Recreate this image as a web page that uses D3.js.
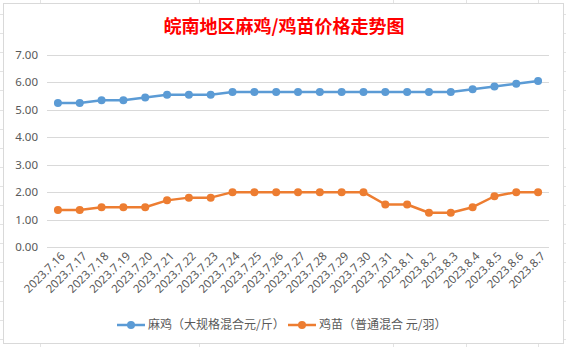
<!DOCTYPE html>
<html><head><meta charset="utf-8">
<script src="https://cdn.jsdelivr.net/npm/d3@7"></script>
<style>
html,body{margin:0;padding:0;background:#fff;}
svg{display:block;}
</style></head>
<body>
<svg id="c" width="566" height="347"></svg>
<script>
const title = "皖南地区麻鸡/鸡苗价格走势图";
const dates = ["2023.7.16","2023.7.17","2023.7.18","2023.7.19","2023.7.20","2023.7.21","2023.7.22","2023.7.23","2023.7.24","2023.7.25","2023.7.26","2023.7.27","2023.7.28","2023.7.29","2023.7.30","2023.7.31","2023.8.1","2023.8.2","2023.8.3","2023.8.4","2023.8.5","2023.8.6","2023.8.7"];
const seriesNames = ["麻鸡（大规格混合元/斤）","鸡苗（普通混合 元/羽）"];
const maji = [5.25,5.25,5.35,5.35,5.45,5.55,5.55,5.55,5.65,5.65,5.65,5.65,5.65,5.65,5.65,5.65,5.65,5.65,5.65,5.75,5.85,5.95,6.05];
const jimiao = [1.35,1.35,1.45,1.45,1.45,1.7,1.8,1.8,2.0,2.0,2.0,2.0,2.0,2.0,2.0,1.55,1.55,1.25,1.25,1.45,1.85,2.0,2.0];
const yTicks = [0,1,2,3,4,5,6,7];
const colors = ["#5B9BD5","#ED7D31"];

const svg = d3.select("#c");
const W = 566, H = 347;

// spreadsheet background lines
const bg = svg.append("g");
const rowYs = d3.range(0, 18).map(i => 14 + i * 19.1);
bg.selectAll("line.r").data(rowYs).join("line")
  .attr("x1", 0).attr("x2", W).attr("y1", d => Math.round(d) + 0.5).attr("y2", d => Math.round(d) + 0.5)
  .attr("stroke", "#e3e3e3").attr("stroke-width", 1);
const colXs = [40, 199, 393, 466, 538];
bg.selectAll("line.c").data(colXs).join("line")
  .attr("x1", d => d + 0.5).attr("x2", d => d + 0.5).attr("y1", 0).attr("y2", H)
  .attr("stroke", "#e3e3e3").attr("stroke-width", 1);

// chart frame
svg.append("rect").attr("x", 3.5).attr("y", 3.5).attr("width", 560).attr("height", 340)
  .attr("fill", "#fff").attr("stroke", "#d9d9d9").attr("stroke-width", 1);

// title
svg.append("text").attr("x", 284).attr("y", 33).attr("text-anchor", "middle")
  .attr("font-family", "'Noto Sans CJK SC'").attr("font-weight", "bold").attr("font-size", 18)
  .attr("fill", "#FF0000").text(title);

const x = d3.scaleBand().domain(dates).range([47, 549]).paddingInner(0).paddingOuter(0);
const y = d3.scaleLinear().domain([0, 7]).range([247, 55]);
const cx = d => x(d) + x.bandwidth() / 2;

// gridlines
svg.append("g").selectAll("line").data(yTicks).join("line")
  .attr("x1", 47).attr("x2", 549)
  .attr("y1", d => Math.round(y(d)) + 0.5).attr("y2", d => Math.round(y(d)) + 0.5)
  .attr("stroke", "#d9d9d9").attr("stroke-width", 1);

// y labels
svg.append("g").selectAll("text").data(yTicks).join("text")
  .attr("x", 38).attr("y", d => y(d)).attr("dy", "0.35em").attr("text-anchor", "end")
  .attr("font-family", "'Noto Sans', sans-serif").attr("font-size", 11.5).attr("fill", "#595959")
  .text(d => d3.format(".2f")(d));

// x labels
svg.append("g").selectAll("text").data(dates).join("text")
  .attr("transform", d => `translate(${cx(d) + 5},${254}) rotate(-45)`)
  .attr("text-anchor", "end").attr("dy", "0.35em")
  .attr("font-family", "'Noto Sans', sans-serif").attr("font-size", 11.5).attr("fill", "#595959")
  .text(d => d);

// series
const series = [maji, jimiao];
const line = d3.line().x((v, i) => cx(dates[i])).y(v => y(v));
series.forEach((vals, si) => {
  svg.append("path").datum(vals).attr("d", line)
    .attr("fill", "none").attr("stroke", colors[si]).attr("stroke-width", 2.5)
    .attr("stroke-linejoin", "round").attr("stroke-linecap", "round");
  svg.append("g").selectAll("circle").data(vals).join("circle")
    .attr("cx", (v, i) => cx(dates[i])).attr("cy", v => y(v)).attr("r", 4)
    .attr("fill", colors[si]);
});

// legend
const legendItems = [{x: 117, tx: 148}, {x: 288, tx: 319}];
legendItems.forEach((it, i) => {
  const g = svg.append("g");
  g.append("line").attr("x1", it.x).attr("x2", it.x + 28).attr("y1", 325).attr("y2", 325)
    .attr("stroke", colors[i]).attr("stroke-width", 2.5);
  g.append("circle").attr("cx", it.x + 14).attr("cy", 325).attr("r", 4).attr("fill", colors[i]);
  g.append("text").attr("x", it.tx).attr("y", 325).attr("dy", "0.35em")
    .attr("font-family", "'Noto Sans CJK SC'").attr("font-size", 12).attr("fill", "#595959")
    .text(seriesNames[i]);
});
</script>
</body></html>
